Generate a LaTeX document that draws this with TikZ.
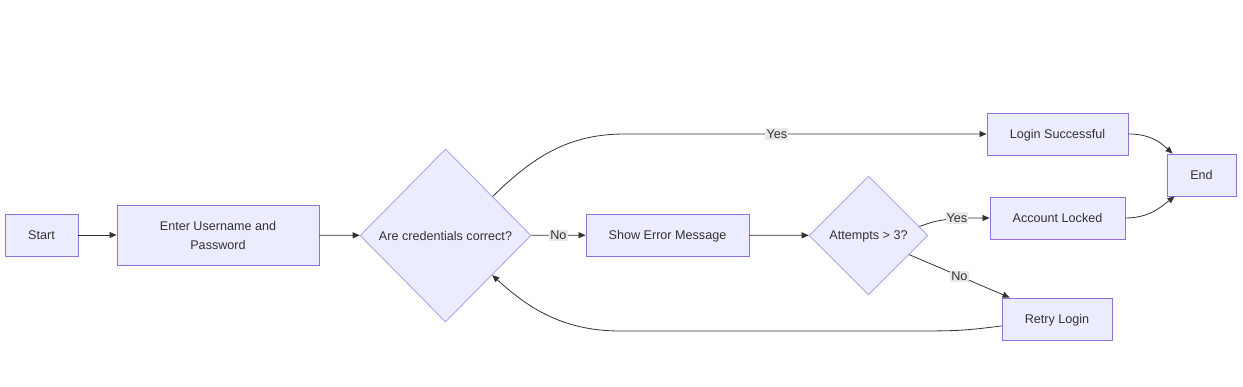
\documentclass[tikz,border=0pt]{standalone}
\usepackage{fontspec}
\setmainfont{Liberation Sans}
\usetikzlibrary{shapes.geometric,arrows.meta,calc}
\definecolor{nodefill}{HTML}{ECECFF}
\definecolor{nodeline}{HTML}{9370DB}
\definecolor{diaLine}{HTML}{B3A4EA}
\definecolor{edgecol}{HTML}{333333}
\definecolor{lblfill}{HTML}{E8E8E8}
\definecolor{txt}{HTML}{333333}
\begin{document}
\begin{tikzpicture}[x=1pt,y=-1pt,
  box/.style={draw=nodeline,fill=nodefill,line width=0.9pt,inner sep=0pt,text=txt,
    font=\fontsize{12.6}{19}\selectfont,align=center,text depth=0pt},
  dia/.style={diamond,draw=diaLine,fill=nodefill,line width=0.9pt,inner sep=0pt,text=txt,
    font=\fontsize{12.6}{19}\selectfont,align=center,text depth=0pt},
  conn/.style={draw=edgecol,line width=0.8pt,-{Triangle[length=7pt,width=6pt]}},
  lab/.style={fill=lblfill,inner sep=1.2pt,text=txt,font=\fontsize{12.6}{15}\selectfont}]
\fill[white] (0,0) rectangle (1243,387);
\useasboundingbox (0,0) rectangle (1243,387);

\node[box,minimum width=73,minimum height=42] (start) at (41.5,235) {Start};
\node[box,minimum width=202,minimum height=60] (enter) at (218,235) {Enter Username and\\Password};
\node[dia,minimum width=171,minimum height=173] (d1) at (445.5,235.5) {Are credentials correct?};
\node[box,minimum width=163,minimum height=42] (err) at (667.5,235) {Show Error Message};
\node[dia,minimum width=119,minimum height=119] (d2) at (868.5,235.5) {Attempts > 3?};
\node[box,minimum width=141,minimum height=42] (succ) at (1057.5,134) {Login Successful};
\node[box,minimum width=135,minimum height=42] (lock) at (1057.5,218) {Account Locked};
\node[box,minimum width=110,minimum height=42] (retry) at (1057,319) {Retry Login};
\node[box,minimum width=69,minimum height=42] (end) at (1201.5,175) {End};

\draw[conn] (start) -- (enter);
\draw[conn] (enter) -- (d1);
\coordinate (d1y) at ($(d1.north east)!0.1!(d1.east)$);
\draw[conn] (d1y) .. controls (535,155) and (570,134) .. (625,134)
  -- node[lab,pos=0.42]{Yes} (succ.west);
\draw[conn] (d1) -- node[lab]{No} (err);
\draw[conn] (err) -- (d2);
\coordinate (d2y) at ($(d2.north east)!0.7!(d2.east)$);
\coordinate (d2n) at ($(d2.east)!0.64!(d2.south east)$);
\draw[conn] (d2y) .. controls (935,221) .. (957,218) node[lab]{Yes} -- (lock.west);
\draw[conn] (d2n) -- node[lab]{No} ([xshift=8pt]retry.north west);
\coordinate (rs) at ([yshift=-7pt]retry.west);
\coordinate (de) at ($(d1.east)!0.456!(d1.south)$);
\draw[conn] (rs) .. controls (960,331) .. (900,331) -- (620,331)
  .. controls (560,331) and (525,305) .. (de);
\draw[conn] (succ.east) .. controls (1150,134) and (1160,142) .. ([xshift=6pt]end.north west);
\draw[conn] (lock.east) .. controls (1150,218) and (1162,206) .. ([xshift=8pt]end.south west);
\end{tikzpicture}
\end{document}
